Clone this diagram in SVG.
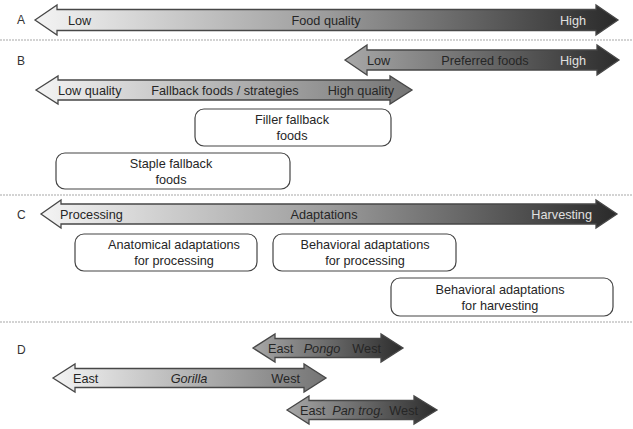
<svg xmlns="http://www.w3.org/2000/svg" width="633" height="429" viewBox="0 0 633 429">
<style>
text{font-family:"Liberation Sans",Arial,sans-serif;font-size:12.7px;fill:#262626}
.lbl{font-size:12px;fill:#333}
.lt{fill:#e0e0e0}
.it{font-style:italic}
.mid{text-anchor:middle}
.end{text-anchor:end}
.arr{stroke:#474747;stroke-width:1.3;stroke-linejoin:miter}
.box{fill:#fff;stroke:#444;stroke-width:1.2}
.sep{stroke:#a8a8a8;stroke-width:1.2;stroke-dasharray:2 1}
</style>
<defs>
<linearGradient id="gFull" x1="0" y1="0" x2="1" y2="0">
<stop offset="0" stop-color="#f4f4f4"/><stop offset="0.5" stop-color="#9c9c9c"/><stop offset="1" stop-color="#2a2a2a"/>
</linearGradient>
<linearGradient id="gDark" x1="0" y1="0" x2="1" y2="0">
<stop offset="0" stop-color="#a8a8a8"/><stop offset="1" stop-color="#2c2c2c"/>
</linearGradient>
<linearGradient id="gLight" x1="0" y1="0" x2="1" y2="0">
<stop offset="0" stop-color="#f4f4f4"/><stop offset="1" stop-color="#747474"/>
</linearGradient>
</defs>

<g id="separators">
<line class="sep" x1="0" y1="40" x2="633" y2="40"/>
<line class="sep" x1="0" y1="195" x2="633" y2="195"/>
<line class="sep" x1="0" y1="322" x2="633" y2="322"/>
</g>

<g id="panel-labels">
<text class="lbl" x="17" y="24">A</text>
<text class="lbl" x="17" y="65">B</text>
<text class="lbl" x="17" y="219">C</text>
<text class="lbl" x="17" y="354">D</text>
</g>

<g id="arrowA">
<path class="arr" fill="url(#gFull)" d="M35,20 L57,5 L57,9.5 L596,9.5 L596,5 L618,20 L596,35 L596,30.5 L57,30.5 L57,35 Z"/>
<text x="68" y="25">Low</text>
<text class="mid" x="326" y="25">Food quality</text>
<text class="end lt" x="586" y="25">High</text>
</g>

<g id="arrowPreferred">
<path class="arr" fill="url(#gDark)" d="M345,60 L367,45 L367,50 L597,50 L597,45 L619,60 L597,75 L597,70 L367,70 L367,75 Z"/>
<text x="367" y="65">Low</text>
<text class="mid" x="485" y="65">Preferred foods</text>
<text class="end lt" x="586" y="65">High</text>
</g>

<g id="arrowFallback">
<path class="arr" fill="url(#gLight)" d="M36,90 L58,76 L58,80 L390,80 L390,76 L412,90 L390,104 L390,100 L58,100 L58,104 Z"/>
<text x="58" y="95">Low quality</text>
<text class="mid" x="225" y="95">Fallback foods / strategies</text>
<text class="end" x="394" y="95">High quality</text>
</g>

<g id="boxFiller">
<rect class="box" x="195" y="109" width="196" height="37" rx="9"/>
<text class="mid" x="292" y="124">Filler fallback</text>
<text class="mid" x="292" y="140">foods</text>
</g>

<g id="boxStaple">
<rect class="box" x="56" y="153" width="234" height="36" rx="9"/>
<text class="mid" x="171" y="168">Staple fallback</text>
<text class="mid" x="171" y="184">foods</text>
</g>

<g id="arrowC">
<path class="arr" fill="url(#gFull)" d="M41,214 L61,200 L61,204 L596,204 L596,200 L617,214 L596,228 L596,224 L61,224 L61,228 Z"/>
<text x="60" y="219">Processing</text>
<text class="mid" x="324" y="219">Adaptations</text>
<text class="end lt" x="592" y="219">Harvesting</text>
</g>

<g id="boxAnatomical">
<rect class="box" x="75" y="234" width="182" height="37" rx="9"/>
<text class="mid" x="174" y="249">Anatomical adaptations</text>
<text class="mid" x="174" y="265">for processing</text>
</g>

<g id="boxBehavProc">
<rect class="box" x="273" y="234" width="183" height="37" rx="9"/>
<text class="mid" x="365" y="249">Behavioral adaptations</text>
<text class="mid" x="365" y="265">for processing</text>
</g>

<g id="boxBehavHarv">
<rect class="box" x="391" y="278" width="222" height="38" rx="9"/>
<text class="mid" x="500" y="294">Behavioral adaptations</text>
<text class="mid" x="500" y="310">for harvesting</text>
</g>

<g id="arrowPongo">
<path class="arr" fill="url(#gDark)" d="M253,348 L275,334 L275,338.5 L381,338.5 L381,334 L403,348 L381,362 L381,357.5 L275,357.5 L275,362 Z"/>
<text x="268" y="353">East</text>
<text class="mid it" x="322" y="353">Pongo</text>
<text class="end" x="381" y="353">West</text>
</g>

<g id="arrowGorilla">
<path class="arr" fill="url(#gLight)" d="M53,378 L75,364 L75,368.5 L304,368.5 L304,364 L326,378 L304,392 L304,387.5 L75,387.5 L75,392 Z"/>
<text x="73" y="383">East</text>
<text class="mid it" x="189" y="383">Gorilla</text>
<text class="end" x="300" y="383">West</text>
</g>

<g id="arrowPan">
<path class="arr" fill="url(#gDark)" d="M287,410 L309,396 L309,400.5 L414,400.5 L414,396 L437,410 L414,424 L414,419.5 L309,419.5 L309,424 Z"/>
<text x="300" y="415">East</text>
<text class="mid it" x="358" y="415">Pan trog.</text>
<text class="end" x="418" y="415">West</text>
</g>
</svg>
